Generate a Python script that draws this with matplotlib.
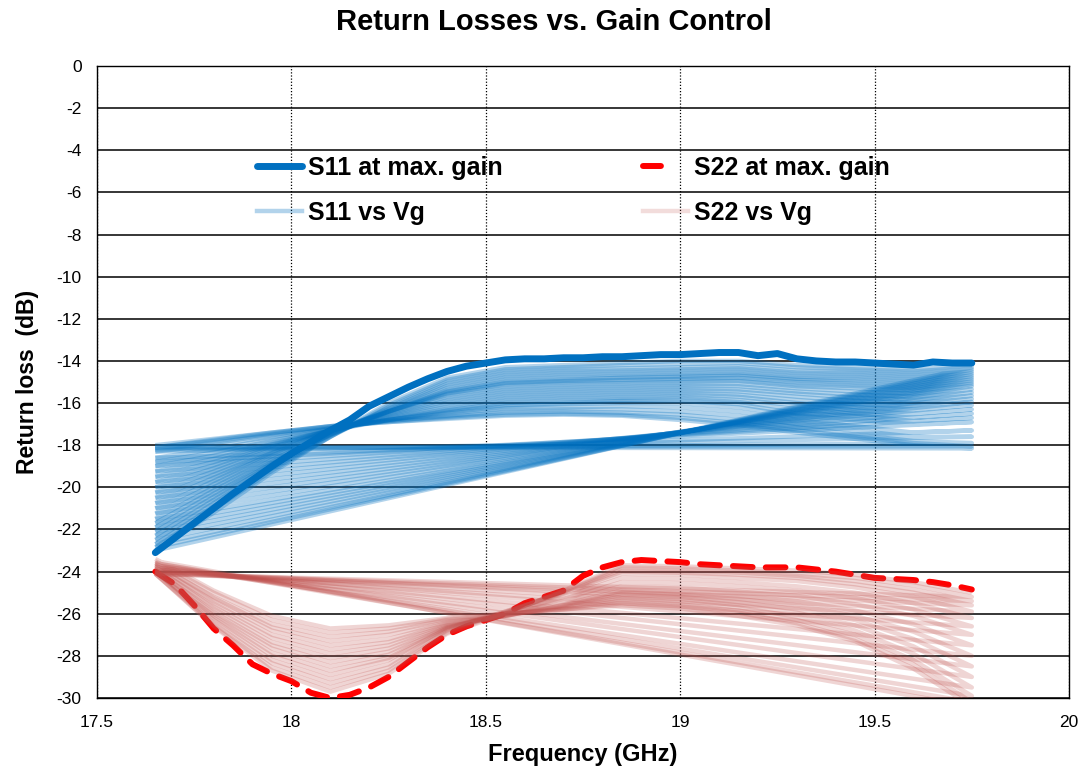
import matplotlib
matplotlib.use("Agg")
import matplotlib.pyplot as plt
from matplotlib.lines import Line2D

# frequency grid of the Vg sweeps (GHz)
freq = [17.65, 17.8, 17.95, 18.1, 18.25, 18.4, 18.55, 18.7, 18.85, 19.0, 19.15, 19.3, 19.45, 19.6, 19.75]

# finer grid used for the two "max gain" traces
freq_fine = [17.65, 17.70, 17.75, 17.80, 17.85, 17.90, 17.95, 18.00, 18.05, 18.10, 18.15,
             18.20, 18.25, 18.30, 18.35, 18.40, 18.45, 18.50, 18.55, 18.60, 18.65, 18.70,
             18.75, 18.80, 18.85, 18.90, 18.95, 19.00, 19.05, 19.10, 19.15, 19.20, 19.25,
             19.30, 19.35, 19.40, 19.45, 19.50, 19.55, 19.60, 19.65, 19.70, 19.75]

s11_max = [-23.1, -22.4, -21.7, -21.0, -20.3, -19.65, -19.0, -18.4, -17.85, -17.3, -16.8,
           -16.15, -15.7, -15.25, -14.85, -14.5, -14.25, -14.1, -13.95, -13.9, -13.9, -13.85,
           -13.85, -13.8, -13.8, -13.75, -13.7, -13.7, -13.65, -13.6, -13.6, -13.75, -13.65,
           -13.9, -14.0, -14.05, -14.05, -14.1, -14.15, -14.2, -14.05, -14.1, -14.1]

s22_max = [-24.0, -24.6, -25.6, -26.7, -27.5, -28.4, -28.85, -29.2, -29.75, -30.0, -29.85,
           -29.5, -29.0, -28.3, -27.6, -27.0, -26.6, -26.3, -26.0, -25.5, -25.2, -24.9,
           -24.2, -23.8, -23.55, -23.45, -23.5, -23.55, -23.65, -23.7, -23.75, -23.8, -23.8,
           -23.8, -23.9, -24.0, -24.15, -24.3, -24.35, -24.4, -24.5, -24.65, -24.85]

# S11 sweeps, lowest gain first (recorded back to back, so each sweep runs on into the next)
s11_vg = [
    [-18.0, -17.7, -17.4, -17.1, -16.9, -16.75, -16.6, -16.55, -16.6, -16.8, -17.05, -17.4, -17.7, -18.0, -18.15],
    [-18.1, -17.75, -17.4, -17.1, -16.9, -16.7, -16.55, -16.5, -16.55, -16.7, -16.95, -17.3, -17.6, -17.9, -18.05],
    [-18.1, -17.8, -17.45, -17.1, -16.85, -16.65, -16.45, -16.4, -16.45, -16.55, -16.8, -17.15, -17.5, -17.8, -17.9],
    [-18.2, -17.9, -17.5, -17.15, -16.85, -16.6, -16.35, -16.3, -16.3, -16.4, -16.6, -17.0, -17.3, -17.6, -17.6],
    [-18.3, -18.0, -17.6, -17.2, -16.8, -16.5, -16.25, -16.2, -16.15, -16.2, -16.4, -16.8, -17.1, -17.4, -17.3],
    [-18.6, -18.2, -17.7, -17.2, -16.8, -16.45, -16.15, -16.05, -16.0, -16.0, -16.2, -16.6, -16.8, -17.0, -16.9],
    [-18.8, -18.35, -17.8, -17.25, -16.8, -16.4, -16.1, -16.0, -15.9, -15.9, -16.05, -16.5, -16.6, -16.85, -16.7],
    [-19.0, -18.5, -17.9, -17.3, -16.8, -16.35, -16.0, -15.9, -15.85, -15.8, -15.95, -16.3, -16.5, -16.7, -16.5],
    [-19.25, -18.65, -17.95, -17.3, -16.75, -16.3, -15.9, -15.8, -15.75, -15.7, -15.85, -16.1, -16.35, -16.5, -16.3],
    [-19.5, -18.8, -18.0, -17.3, -16.7, -16.2, -15.8, -15.7, -15.65, -15.6, -15.7, -16.0, -16.2, -16.3, -16.1],
    [-19.75, -18.95, -18.05, -17.3, -16.65, -16.1, -15.7, -15.6, -15.55, -15.5, -15.6, -15.85, -16.05, -16.15, -15.95],
    [-20.0, -19.1, -18.1, -17.3, -16.6, -16.0, -15.6, -15.5, -15.45, -15.4, -15.45, -15.7, -15.9, -16.0, -15.8],
    [-20.25, -19.25, -18.2, -17.3, -16.55, -15.9, -15.5, -15.4, -15.35, -15.3, -15.35, -15.55, -15.75, -15.85, -15.65],
    [-20.5, -19.4, -18.3, -17.3, -16.5, -15.8, -15.4, -15.3, -15.25, -15.2, -15.2, -15.45, -15.6, -15.7, -15.5],
    [-20.75, -19.55, -18.35, -17.3, -16.45, -15.7, -15.3, -15.2, -15.15, -15.1, -15.1, -15.3, -15.45, -15.55, -15.35],
    [-21.0, -19.7, -18.4, -17.3, -16.4, -15.6, -15.2, -15.1, -15.05, -15.0, -14.95, -15.2, -15.3, -15.4, -15.2],
    [-21.25, -19.85, -18.5, -17.35, -16.4, -15.55, -15.1, -15.0, -14.95, -14.9, -14.9, -15.1, -15.2, -15.3, -15.1],
    [-21.5, -20.0, -18.6, -17.4, -16.4, -15.5, -15.05, -14.95, -14.9, -14.85, -14.8, -15.0, -15.1, -15.2, -15.0],
    [-21.7, -20.15, -18.7, -17.45, -16.4, -15.45, -15.0, -14.9, -14.8, -14.75, -14.7, -14.9, -15.0, -15.1, -14.9],
    [-21.9, -20.3, -18.8, -17.5, -16.4, -15.4, -14.9, -14.8, -14.75, -14.7, -14.65, -14.85, -14.9, -15.0, -14.8],
    [-22.1, -20.45, -18.85, -17.5, -16.35, -15.3, -14.8, -14.7, -14.65, -14.6, -14.55, -14.75, -14.8, -14.9, -14.7],
    [-22.3, -20.6, -18.9, -17.5, -16.3, -15.2, -14.7, -14.6, -14.55, -14.5, -14.45, -14.65, -14.7, -14.8, -14.6],
    [-22.5, -20.75, -19.0, -17.55, -16.25, -15.1, -14.6, -14.5, -14.45, -14.4, -14.35, -14.55, -14.6, -14.7, -14.5],
    [-22.7, -20.9, -19.1, -17.6, -16.2, -15.0, -14.5, -14.4, -14.35, -14.3, -14.25, -14.45, -14.5, -14.6, -14.4],
    [-22.85, -21.05, -19.2, -17.6, -16.1, -14.9, -14.4, -14.3, -14.2, -14.15, -14.1, -14.3, -14.4, -14.5, -14.3],
    [-23.0, -21.2, -19.3, -17.6, -16.0, -14.8, -14.3, -14.2, -14.1, -14.0, -14.0, -14.2, -14.3, -14.4, -14.2],
]

# S22 sweeps, same order
s22_vg = [
    [-23.4, -24.9, -26.1, -26.7, -26.55, -26.2, -26.0, -25.8, -25.6, -25.75, -26.1, -26.55, -27.3, -28.6, -30.4],
    [-23.5, -25.0, -26.3, -26.9, -26.7, -26.25, -26.0, -25.8, -25.5, -25.65, -25.95, -26.45, -27.2, -28.4, -30.2],
    [-23.6, -25.2, -26.5, -27.1, -26.85, -26.3, -26.05, -25.75, -25.4, -25.55, -25.85, -26.3, -27.0, -28.2, -29.9],
    [-23.6, -25.25, -26.65, -27.3, -27.0, -26.4, -26.05, -25.7, -25.3, -25.45, -25.7, -26.15, -26.8, -27.9, -29.5],
    [-23.7, -25.4, -26.8, -27.5, -27.2, -26.45, -26.1, -25.65, -25.2, -25.3, -25.6, -25.95, -26.55, -27.55, -29.0],
    [-23.7, -25.5, -27.0, -27.7, -27.35, -26.5, -26.1, -25.6, -25.1, -25.2, -25.45, -25.8, -26.3, -27.2, -28.5],
    [-23.8, -25.65, -27.15, -27.9, -27.5, -26.55, -26.1, -25.6, -25.0, -25.1, -25.3, -25.6, -26.1, -26.85, -28.0],
    [-23.8, -25.75, -27.35, -28.1, -27.65, -26.6, -26.1, -25.55, -24.9, -25.0, -25.15, -25.4, -25.85, -26.5, -27.5],
    [-23.9, -25.9, -27.5, -28.3, -27.8, -26.65, -26.05, -25.4, -24.7, -24.75, -24.95, -25.15, -25.55, -26.1, -27.0],
    [-23.9, -26.0, -27.65, -28.5, -27.95, -26.65, -26.0, -25.3, -24.5, -24.55, -24.7, -24.9, -25.25, -25.8, -26.6],
    [-24.0, -26.1, -27.85, -28.7, -28.1, -26.7, -26.0, -25.2, -24.3, -24.35, -24.5, -24.7, -25.0, -25.5, -26.2],
    [-24.0, -26.2, -28.0, -28.9, -28.2, -26.7, -25.9, -25.05, -24.1, -24.15, -24.3, -24.45, -24.75, -25.2, -25.9],
    [-24.0, -26.3, -28.2, -29.1, -28.4, -26.75, -25.9, -25.0, -24.0, -24.05, -24.15, -24.3, -24.6, -25.0, -25.6],
    [-24.1, -26.45, -28.35, -29.3, -28.55, -26.8, -25.95, -24.95, -23.9, -23.95, -24.05, -24.2, -24.45, -24.85, -25.4],
    [-24.1, -26.55, -28.55, -29.5, -28.7, -26.9, -25.95, -24.95, -23.8, -23.85, -23.95, -24.1, -24.3, -24.65, -25.2],
    [-24.1, -26.6, -28.7, -29.7, -28.85, -26.95, -26.0, -24.9, -23.7, -23.75, -23.85, -23.95, -24.15, -24.5, -25.0],
]

x_ticks = [17.5, 18, 18.5, 19, 19.5, 20]
x_tick_labels = ["17.5", "18", "18.5", "19", "19.5", "20"]
y_ticks = [0, -2, -4, -6, -8, -10, -12, -14, -16, -18, -20, -22, -24, -26, -28, -30]
y_tick_labels = ["0", "-2", "-4", "-6", "-8", "-10", "-12", "-14", "-16", "-18", "-20",
                 "-22", "-24", "-26", "-28", "-30"]

plt.rcParams["font.family"] = ["Liberation Sans", "DejaVu Sans"]

fig = plt.figure(figsize=(10.81, 7.73), dpi=100)
ax = fig.add_axes([97 / 1081, 1 - 698 / 773, 972 / 1081, 632 / 773])

ax.plot(freq_fine, s11_max, color="#0070C0", lw=5, solid_capstyle="round", zorder=3)
ax.plot(freq_fine, s22_max, color="#FF0000", lw=4.3, dashes=(3.3, 2.2),
        dash_capstyle="round", zorder=3)


def draw_family(rows, color, alpha):
    for i, row in enumerate(rows):
        xs, ys = list(freq), list(row)
        if i + 1 < len(rows):
            # the sweeps were logged as one series, so the trace jumps back to the start
            xs.append(freq[0])
            ys.append(rows[i + 1][0])
        ax.plot(xs, ys, color=color, alpha=alpha, lw=3.2, zorder=4,
                solid_joinstyle="round", solid_capstyle="butt")


draw_family(s11_vg, "#0070C0", 0.3)
draw_family(s22_vg, "#C0504D", 0.24)

ax.set_xlim(17.5, 20)
ax.set_ylim(-30, 0)
ax.set_xticks(x_ticks)
ax.set_xticklabels(x_tick_labels)
ax.set_yticks(y_ticks)
ax.set_yticklabels(y_tick_labels)
ax.tick_params(length=0, labelsize=12.5)
ax.tick_params(axis="y", pad=11)
ax.tick_params(axis="x", pad=12)

ax.set_axisbelow(True)
ax.yaxis.grid(True, color="black", lw=1.1)
ax.xaxis.grid(True, color="black", lw=0.9, linestyle=(0, (1, 1.5)))
for sp in ax.spines.values():
    sp.set_color("black")
    sp.set_linewidth(1)

handles = [
    Line2D([], [], color="#0070C0", lw=5, solid_capstyle="round"),
    Line2D([], [], color="#0070C0", alpha=0.3, lw=3.2),
    Line2D([], [], color="#FF0000", lw=4.3, dashes=(3.0, 6.0), dash_capstyle="round"),
    Line2D([], [], color="#C0504D", alpha=0.2, lw=3.2),
]
labels = ["S11 at max. gain", "S11 vs Vg", "S22 at max. gain", "S22 vs Vg"]
ax.legend(handles, labels, ncol=2, loc="upper left", bbox_to_anchor=(0.152, 0.878),
          frameon=False, borderpad=0, handlelength=1.8, handletextpad=0.25,
          columnspacing=5.6, labelspacing=0.85,
          prop={"weight": "bold", "size": 18})

fig.text(554 / 1081, 1 - 22 / 773, "Return Losses vs. Gain Control", ha="center",
         va="center", fontsize=21, fontweight="bold")
fig.text(583 / 1081, 1 - 755 / 773, "Frequency (GHz)", ha="center", va="center",
         fontsize=17, fontweight="bold")
fig.text(28 / 1081, 1 - 382 / 773, "Return loss  (dB)", ha="center", va="center",
         rotation=90, fontsize=16.5, fontweight="bold")

fig.savefig("out.png", dpi=100)
